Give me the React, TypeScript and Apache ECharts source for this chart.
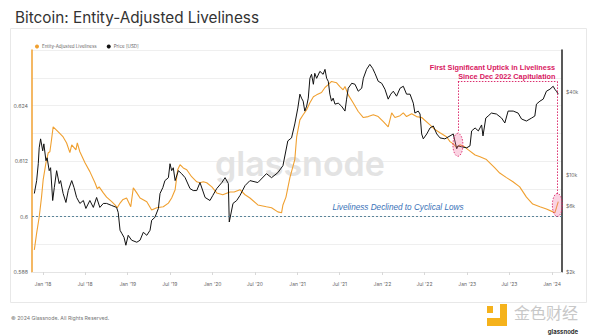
import { useEffect, useRef } from 'react';
import * as echarts from 'echarts';

const livDates = [
  '2017-11-25','2017-12-05','2017-12-16','2017-12-26','2018-01-02','2018-01-14','2018-01-24','2018-01-31','2018-02-07','2018-02-14',
  '2018-03-08','2018-03-29','2018-04-13','2018-04-27','2018-05-05','2018-05-15','2018-05-23','2018-05-29','2018-06-09','2018-07-01',
  '2018-07-22','2018-08-13','2018-08-23','2018-08-31','2018-09-18','2018-10-02','2018-10-24','2018-11-07','2018-11-17','2018-11-29',
  '2018-12-10','2018-12-27','2019-01-14','2019-01-25','2019-02-09','2019-02-23','2019-03-24','2019-04-14','2019-05-06','2019-06-03',
  '2019-06-25','2019-07-09','2019-07-24','2019-08-04','2019-08-14','2019-08-28','2019-09-12','2019-10-03','2019-10-25','2019-11-08',
  '2019-11-22','2019-12-07','2019-12-29','2020-01-19','2020-02-14','2020-03-16','2020-04-03','2020-04-28','2020-05-20','2020-06-10',
  '2020-07-14','2020-08-20','2020-09-11','2020-10-08','2020-10-24','2020-10-30','2020-11-12','2020-11-29','2020-12-20','2020-12-28',
  '2021-01-11','2021-01-25','2021-02-09','2021-02-23','2021-03-10','2021-03-24','2021-04-14','2021-04-29','2021-05-13','2021-05-27',
  '2021-06-18','2021-07-02','2021-07-16','2021-07-24','2021-08-07','2021-08-28','2021-09-19','2021-10-11','2021-11-01','2021-11-23',
  '2021-12-14','2022-01-05','2022-01-26','2022-02-10','2022-02-24','2022-03-18','2022-04-01','2022-04-15','2022-05-07','2022-05-28',
  '2022-06-19','2022-07-25','2022-08-15','2022-09-06','2022-10-05','2022-10-19','2022-11-02','2022-11-17','2022-12-01','2022-12-20',
  '2023-01-06','2023-02-04','2023-02-25','2023-03-25','2023-04-08','2023-04-30','2023-05-21','2023-06-19','2023-07-17','2023-08-15',
  '2023-09-13','2023-10-10','2023-11-10','2023-12-08','2024-01-05','2024-01-13','2024-01-20','2024-01-28',
];
const livValues = [
  0.5928,0.5964,0.5999,0.6042,0.6079,0.6116,0.6138,0.6140,0.6166,0.6194,
  0.6183,0.6172,0.6159,0.6138,0.6155,0.6149,0.6144,0.6159,0.6140,0.6116,
  0.6097,0.6073,0.6060,0.6064,0.6051,0.6042,0.6032,0.6025,0.6019,0.6029,
  0.6036,0.6040,0.6021,0.6062,0.6051,0.6040,0.6032,0.6014,0.6019,0.6021,
  0.6029,0.6040,0.6058,0.6101,0.6112,0.6105,0.6101,0.6086,0.6075,0.6073,
  0.6075,0.6073,0.6064,0.6051,0.6047,0.6053,0.6053,0.6058,0.6047,0.6040,
  0.6025,0.6021,0.6019,0.6010,0.6008,0.6025,0.6042,0.6084,0.6123,0.6172,
  0.6209,0.6220,0.6231,0.6246,0.6259,0.6263,0.6268,0.6279,0.6285,0.6292,
  0.6289,0.6281,0.6274,0.6281,0.6263,0.6246,0.6227,0.6214,0.6216,0.6220,
  0.6216,0.6205,0.6194,0.6224,0.6214,0.6218,0.6224,0.6216,0.6222,0.6216,
  0.6214,0.6198,0.6188,0.6181,0.6172,0.6162,0.6157,0.6149,0.6155,0.6151,
  0.6144,0.6133,0.6129,0.6123,0.6116,0.6105,0.6094,0.6084,0.6075,0.6064,
  0.6042,0.6027,0.6021,0.6016,0.6010,0.6008,0.6019,0.6032,
];

const priceDates = [
  '2017-11-25','2017-12-05','2017-12-12','2017-12-16','2017-12-22','2017-12-31','2018-01-05','2018-01-14','2018-01-19','2018-01-28',
  '2018-02-03','2018-02-12','2018-02-19','2018-03-01','2018-03-12','2018-03-18','2018-03-29','2018-04-10','2018-04-20','2018-05-05',
  '2018-05-15','2018-05-26','2018-06-09','2018-06-24','2018-07-05','2018-07-22','2018-08-06','2018-08-20','2018-09-03','2018-09-18',
  '2018-10-02','2018-10-24','2018-11-14','2018-11-21','2018-11-29','2018-12-06','2018-12-16','2018-12-24','2019-01-03','2019-01-18',
  '2019-02-09','2019-02-23','2019-03-09','2019-03-24','2019-04-07','2019-04-14','2019-04-28','2019-05-13','2019-05-20','2019-06-01',
  '2019-06-10','2019-06-25','2019-07-02','2019-07-09','2019-07-16','2019-07-24','2019-08-07','2019-08-21','2019-09-05','2019-09-26',
  '2019-10-10','2019-10-25','2019-11-08','2019-11-30','2019-12-21','2020-01-02','2020-01-19','2020-02-10','2020-02-24','2020-03-09',
  '2020-03-13','2020-03-29','2020-04-14','2020-04-28','2020-05-20','2020-06-10','2020-07-14','2020-08-20','2020-09-11','2020-10-08',
  '2020-10-30','2020-11-20','2020-12-06','2020-12-20','2021-01-02','2021-01-11','2021-01-18','2021-01-25','2021-02-01','2021-02-09',
  '2021-02-16','2021-02-23','2021-03-02','2021-03-10','2021-03-16','2021-03-24','2021-04-07','2021-04-21','2021-04-29','2021-05-06',
  '2021-05-13','2021-05-20','2021-05-27','2021-06-03','2021-06-11','2021-06-25','2021-07-09','2021-07-24','2021-07-31','2021-08-07',
  '2021-08-22','2021-09-05','2021-09-19','2021-10-04','2021-10-11','2021-10-25','2021-11-08','2021-11-20','2021-11-30','2021-12-14',
  '2021-12-29','2022-01-12','2022-01-26','2022-02-06','2022-02-17','2022-03-03','2022-03-18','2022-04-01','2022-04-15','2022-04-30',
  '2022-05-14','2022-05-21','2022-06-04','2022-06-12','2022-06-19','2022-06-26','2022-07-11','2022-07-25','2022-08-08','2022-08-23',
  '2022-09-06','2022-09-27','2022-10-19','2022-11-02','2022-11-17','2022-11-22','2022-12-08','2022-12-30','2023-01-13','2023-01-20',
  '2023-02-04','2023-02-18','2023-03-04','2023-03-10','2023-03-22','2023-04-01','2023-04-15','2023-05-07','2023-05-29','2023-06-12',
  '2023-06-26','2023-07-18','2023-08-08','2023-08-23','2023-09-13','2023-10-05','2023-10-19','2023-10-26','2023-11-10','2023-11-24',
  '2023-12-08','2023-12-23','2024-01-06','2024-01-13','2024-01-20','2024-01-28',
];
const priceValues = [
  7370,9130,12090,15750,18270,14980,16820,12710,13350,10770,
  11310,6560,8130,10770,8690,9130,7370,6350,7740,9130,
  8130,6900,6250,6560,5750,6560,5850,6900,5850,6250,
  6250,6040,5850,5380,4000,3810,3560,3120,3680,3390,
  3280,3390,3870,3680,4000,4720,4960,5750,7370,8130,
  9130,9590,12090,10770,11310,9130,10770,10250,9590,8000,
  7740,7740,8840,6900,6560,7130,8000,8840,9590,8690,
  4590,6250,6560,7130,8410,9130,8840,10250,9590,10420,
  11700,17670,18570,23400,30470,38400,35940,34200,29000,31480,
  35940,49980,53400,45270,54300,49980,56100,53400,58000,49980,
  47580,38400,34200,35940,32540,33080,31480,29000,35350,42400,
  46020,45270,40340,42400,49980,58000,63000,58960,54300,47580,
  46020,41690,35350,38400,40340,37140,42400,43800,38400,38400,
  33080,28060,29000,27600,19830,18270,19830,21900,22640,19830,
  18570,18270,19190,19830,15490,16270,16010,15750,16270,20840,
  21900,20840,23020,19190,25820,26700,28060,27600,25820,23790,
  29000,29000,28060,25410,24580,25820,26700,32540,34200,35350,
  40340,41690,43800,41690,40340,38400,
];

const xTickDates = [
  '2018-01-01','2018-07-01','2019-01-01','2019-07-01','2020-01-01','2020-07-01','2021-01-01',
  '2021-07-01','2022-01-01','2022-07-01','2023-01-01','2023-07-01','2024-01-01',
];
const leftTicks = [0.588, 0.6, 0.612, 0.624];
const rightTicks = [2000, 6000, 10000, 40000];
const MONTHS = ['Jan','Feb','Mar','Apr','May','Jun','Jul','Aug','Sep','Oct','Nov','Dec'];

const ts = (s: string) => {
  const [y, m, d] = s.split('-').map(Number);
  return new Date(y, m - 1, d).getTime();
};

const ORANGE = '#f0a030';
const PINK = '#d8175f';

export default function App() {
  const ref = useRef<HTMLDivElement>(null);
  useEffect(() => {
    document.body.style.margin = '0';
    const chart = echarts.init(ref.current!, null, { renderer: 'svg' });
    const livData = livDates.map((d, i) => [ts(d), livValues[i]]);
    const priceData = priceDates.map((d, i) => [ts(d), priceValues[i]]);
    const xTicks = xTickDates.map(ts);
    const leftX = ts('2022-11-22');
    const rightX = ts('2024-01-24');
    const topV = 0.6292;

    const option: any = {
      animation: false,
      backgroundColor: '#ffffff',
      textStyle: { fontFamily: 'Inter' },
      title: {
        text: 'Bitcoin: Entity-Adjusted Liveliness',
        left: 10,
        top: 5,
        textStyle: { fontSize: 15.3, fontWeight: 'normal', color: '#333', fontFamily: 'Inter' },
      },
      legend: {
        left: 30,
        top: 39,
        icon: 'circle',
        itemWidth: 4,
        itemHeight: 4,
        itemGap: 10,
        textStyle: { fontSize: 4.5, color: '#666', padding: [0, 0, 0, -2] },
        data: ['Entity-Adjusted Liveliness', 'Price [USD]'],
      },
      grid: { left: 32, right: 38, top: 50, bottom: 63 },
      xAxis: {
        type: 'value',
        min: ts('2017-11-15'),
        max: ts('2024-02-13'),
        axisLine: { show: true, onZero: false, lineStyle: { color: '#e4e4e4' } },
        axisTick: { show: true, customValues: xTicks, length: 3, lineStyle: { color: '#d8d8d8' } },
        axisLabel: {
          customValues: xTicks,
          fontSize: 5,
          color: '#666',
          margin: 9,
          formatter: (v: number) => {
            const d = new Date(v);
            return MONTHS[d.getMonth()] + " '" + String(d.getFullYear()).slice(2);
          },
        },
        splitLine: { show: false },
      },
      yAxis: [
        {
          type: 'value',
          min: 0.588,
          max: 0.636,
          interval: 0.006,
          axisLine: { show: true, lineStyle: { color: ORANGE, width: 1.5 } },
          axisTick: { show: false },
          axisLabel: {
            customValues: leftTicks,
            fontSize: 5.3,
            color: '#666',
            margin: 4,
            formatter: (v: number) => String(+v.toFixed(3)),
          },
          splitLine: { show: true, lineStyle: { color: '#efefef', width: 1 } },
        },
        {
          type: 'log',
          logBase: 10,
          min: 2000,
          max: 80000,
          position: 'right',
          axisLine: { show: true, onZero: false, lineStyle: { color: '#222', width: 1.5 } },
          axisTick: { show: false },
          axisLabel: {
            customValues: rightTicks,
            fontSize: 5,
            color: '#666',
            margin: 4,
            formatter: (v: number) => '$' + Math.round(v / 1000) + 'k',
          },
          splitLine: { show: false },
        },
      ],
      series: [
        {
          name: 'Entity-Adjusted Liveliness',
          type: 'line',
          yAxisIndex: 0,
          data: livData,
          showSymbol: false,
          itemStyle: { color: ORANGE },
          lineStyle: { color: ORANGE, width: 1.1 },
          z: 3,
          markLine: {
            silent: true,
            symbol: 'none',
            label: { show: false },
            animation: false,
            data: [
              { yAxis: 0.6, lineStyle: { color: '#4a7890', type: [2, 2], width: 0.9 } },
              [
                { coord: [leftX, topV], lineStyle: { color: PINK, type: [1.5, 1.5], width: 0.9 } },
                { coord: [rightX, topV] },
              ],
              [
                { coord: [leftX, topV], lineStyle: { color: PINK, type: [1.5, 1.5], width: 0.9 } },
                { coord: [leftX, 0.6181] },
              ],
              [
                { coord: [rightX, topV], lineStyle: { color: PINK, type: [1.5, 1.5], width: 0.9 } },
                { coord: [rightX, 0.6047] },
              ],
            ],
          },
        },
        {
          name: 'Price [USD]',
          type: 'line',
          yAxisIndex: 1,
          data: priceData,
          showSymbol: false,
          itemStyle: { color: '#111' },
          lineStyle: { color: '#111', width: 1 },
          z: 4,
        },
      ],
    };
    chart.setOption(option);

    const p1 = chart.convertToPixel({ xAxisIndex: 0, yAxisIndex: 0 }, [leftX, 0.6155]) as number[];
    const p2 = chart.convertToPixel({ xAxisIndex: 0, yAxisIndex: 0 }, [rightX, 0.6025]) as number[];

    chart.setOption({
      graphic: [
        {
          type: 'rect',
          z: -10,
          shape: { x: 10.5, y: 28.5, width: 576, height: 274 },
          style: { fill: 'none', stroke: '#e8e8e8', lineWidth: 1 },
        },
        {
          type: 'text',
          z: 0,
          x: 300,
          y: 163,
          style: {
            text: 'glassnode',
            fontSize: 34,
            fontWeight: 600,
            fontFamily: 'Inter',
            fill: '#e3e3e3',
            align: 'center',
            verticalAlign: 'middle',
          },
        },
        {
          type: 'ellipse',
          z: 100,
          shape: { cx: p1[0], cy: p1[1], rx: 5, ry: 11.5 },
          style: { fill: 'rgba(240,110,160,0.3)', stroke: PINK, lineWidth: 0.8, lineDash: [1.5, 1.5] },
        },
        {
          type: 'ellipse',
          z: 100,
          shape: { cx: p2[0], cy: p2[1], rx: 5, ry: 11.5 },
          style: { fill: 'rgba(240,110,160,0.3)', stroke: PINK, lineWidth: 0.8, lineDash: [1.5, 1.5] },
        },
        {
          type: 'text',
          z: 100,
          x: 555,
          y: 67.5,
          style: {
            text: 'First Significant Uptick in Liveliness',
            fontSize: 7.3,
            fontWeight: 'bold',
            fontFamily: 'Liberation Sans',
            fill: PINK,
            align: 'right',
            verticalAlign: 'middle',
          },
        },
        {
          type: 'text',
          z: 100,
          x: 555.5,
          y: 76,
          style: {
            text: 'Since Dec 2022 Capitulation',
            fontSize: 7.3,
            fontWeight: 'bold',
            fontFamily: 'Liberation Sans',
            fill: PINK,
            align: 'right',
            verticalAlign: 'middle',
          },
        },
        {
          type: 'text',
          z: 100,
          x: 398,
          y: 207,
          style: {
            text: 'Liveliness Declined to Cyclical Lows',
            fontSize: 8.2,
            fontStyle: 'italic',
            fontFamily: 'Liberation Sans',
            fill: '#3a72b8',
            align: 'center',
            verticalAlign: 'middle',
          },
        },
        {
          type: 'text',
          x: 11,
          y: 318,
          style: {
            text: '© 2024 Glassnode. All Rights Reserved.',
            fontSize: 5.2,
            fontFamily: 'Inter',
            fill: '#777',
            verticalAlign: 'middle',
          },
        },
        {
          type: 'rect',
          shape: { x: 487, y: 306, width: 6, height: 7 },
          style: { fill: '#f5b21b' },
        },
        {
          type: 'polygon',
          shape: { points: [[500, 304], [507, 304], [507, 326], [487, 326], [487, 318], [500, 318]] },
          style: { fill: '#f5b21b' },
        },
        {
          type: 'text',
          x: 514,
          y: 304,
          style: {
            text: '金色财经',
            fontSize: 16,
            fontFamily: 'Noto Sans CJK SC',
            fill: '#c8c8c8',
            verticalAlign: 'top',
          },
        },
        {
          type: 'text',
          x: 563,
          y: 331,
          style: {
            text: 'glassnode',
            fontSize: 6,
            fontWeight: 'bold',
            fontFamily: 'Inter',
            fill: '#333',
            align: 'center',
            verticalAlign: 'middle',
          },
        },
      ],
    });

    return () => chart.dispose();
  }, []);

  return <div ref={ref} style={{ width: 600, height: 335 }} />;
}
